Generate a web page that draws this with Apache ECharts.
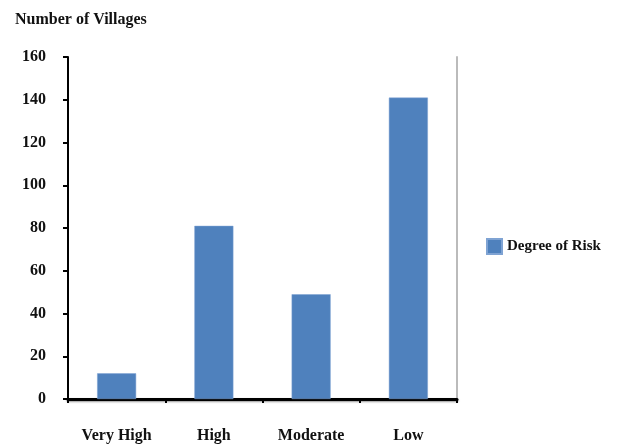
<!DOCTYPE html>
<html><head><meta charset="utf-8">
<script src="https://cdn.jsdelivr.net/npm/echarts@6/dist/echarts.min.js"></script>
<style>html,body{margin:0;padding:0;background:#fff}#c{width:618px;height:445px}</style>
</head><body><div id="c"></div>
<script>
const categories = ["Very High", "High", "Moderate", "Low"];
const values = [12, 81, 49, 141];
const seriesName = "Degree of Risk";
const yTitle = "Number of Villages";

const font = "Liberation Serif";
const fs = 16;
const chart = echarts.init(document.getElementById('c'));
chart.setOption({
  animation: false,
  title: { text: yTitle, left: 10, top: 7, textStyle: { fontFamily: font, fontWeight: 'bold', fontSize: fs, color: '#111' } },
  legend: { data: [seriesName], left: 486, top: 238, padding: 0, orient: 'vertical', itemWidth: 15, itemHeight: 15, icon: 'rect',
    textStyle: { fontFamily: font, fontWeight: 'bold', fontSize: 15, color: '#111' }, itemGap: 6 },
  grid: { left: 68, top: 57, right: 161, bottom: 46 },
  xAxis: { type: 'category', data: categories,
    axisLine: { lineStyle: { color: '#000', width: 3, shadowColor: 'rgba(0,0,0,0.4)', shadowBlur: 2, shadowOffsetY: 1 } },
    axisTick: { show: true, length: 4, lineStyle: { color: '#000', width: 2 } },
    axisLabel: { fontFamily: font, fontWeight: 'bold', fontSize: fs, color: '#111', margin: 29 } },
  yAxis: [{ type: 'value', min: 0, max: 160, interval: 20,
    axisLine: { show: true, lineStyle: { color: '#000', width: 2 } },
    axisTick: { show: true, length: 5, lineStyle: { color: '#000', width: 2 } },
    splitLine: { show: false },
    axisLabel: { fontFamily: font, fontWeight: 'bold', fontSize: fs, color: '#111', margin: 22 } },
    { type: 'value', min: 0, max: 160, interval: 20, position: 'right',
    axisLine: { show: true, lineStyle: { color: '#bbb', width: 2 } },
    axisTick: { show: false }, axisLabel: { show: false }, splitLine: { show: false } }],
  series: [{ name: seriesName, type: 'bar', data: values, barWidth: 39,
    itemStyle: { color: '#4F81BD', borderColor: '#7fa3d3', borderWidth: 0.5 } }]
});
</script></body></html>
